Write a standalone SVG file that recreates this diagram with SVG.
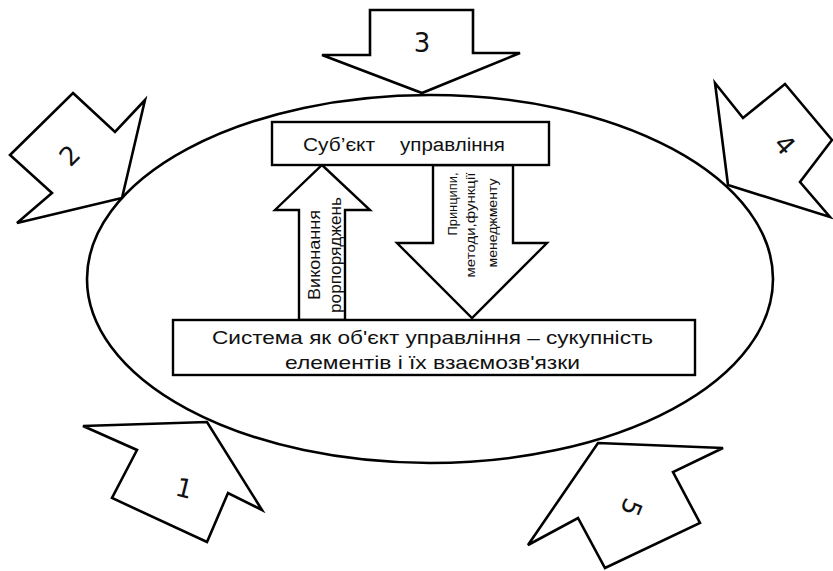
<svg xmlns="http://www.w3.org/2000/svg" width="833" height="571" viewBox="0 0 833 571">
<style>
.o{fill:#fff;stroke:#000;stroke-width:2.6;stroke-linejoin:miter}
.b{fill:#fff;stroke:#000;stroke-width:2.4}
.t{font-family:"Liberation Sans",Arial,sans-serif;fill:#111}
.n{font-family:"DejaVu Sans",sans-serif;fill:#111;font-size:26px;text-anchor:middle}
</style>
<rect width="833" height="571" fill="#fff"/>
<g id="system-ellipse"><ellipse cx="430" cy="279" rx="343" ry="184" fill="none" stroke="#000" stroke-width="2.6"/></g>
<g id="arrow3"><polygon class="o" points="370,10 473,10 473,53 520,53 422,93 322,55 370,55"/><text class="n" x="422" y="52">3</text></g>
<g id="arrow2"><polygon class="o" points="73,93 115,132 145,100 122,198 17,223 52,193 10,155"/><text class="n" font-size="22" transform="translate(76,162) rotate(-45)">2</text></g>
<g id="arrow4"><polygon class="o" points="715,83 743,118 785,84 832,140 800,182 830,217 728,185"/><text class="n" font-size="22" transform="translate(778,151) rotate(48)">4</text></g>
<g id="arrow1"><polygon class="o" points="83,426 207,422 262,510 228,493 207,542 112,498 137,450"/><text class="n" font-size="22" transform="translate(182,497) rotate(14)">1</text></g>
<g id="arrow5"><polygon class="o" points="598,443 723,448 673,472 700,523 605,568 578,518 528,545"/><text class="n" font-size="22" transform="translate(623,504) rotate(112)">5</text></g>
<g id="connectors">
<g id="up-arrow"><polygon class="b" points="299,320 299,210 275,210 322,165 370,210 345,210 345,320"/>
<text class="t" font-size="16" text-anchor="middle" textLength="90" lengthAdjust="spacingAndGlyphs" transform="translate(320,255) rotate(-90)">Виконання</text>
<text class="t" font-size="16" text-anchor="middle" textLength="116" lengthAdjust="spacingAndGlyphs" transform="translate(341,255) rotate(-90)">рорпоряджень</text></g>
<g id="down-arrow"><polygon class="b" points="433,165 433,243 397,243 472,318 547,243 513,243 513,165"/>
<text class="t" font-size="12.5" text-anchor="middle" textLength="63" lengthAdjust="spacingAndGlyphs" transform="translate(457,204) rotate(-90)">Принципи,</text>
<text class="t" font-size="12.5" text-anchor="middle" textLength="105" lengthAdjust="spacingAndGlyphs" transform="translate(475,225) rotate(-90)">методи,функції</text>
<text class="t" font-size="12.5" text-anchor="middle" textLength="89" lengthAdjust="spacingAndGlyphs" transform="translate(497,223) rotate(-90)">менеджменту</text></g>
</g>
<g id="subject"><rect class="b" x="272" y="122" width="277" height="43"/>
<text class="t" font-size="18" x="303" y="151" textLength="72" lengthAdjust="spacingAndGlyphs">Суб’єкт</text>
<text class="t" font-size="18" x="400" y="151" textLength="105" lengthAdjust="spacingAndGlyphs">управління</text></g>
<g id="object"><rect class="b" x="173" y="320" width="522" height="55"/>
<text class="t" font-size="19" x="212" y="344" textLength="441" lengthAdjust="spacingAndGlyphs">Система як об'єкт управління – сукупність</text>
<text class="t" font-size="19" x="285" y="369" textLength="295" lengthAdjust="spacingAndGlyphs">елементів і їх взаємозв'язки</text></g>
</svg>
